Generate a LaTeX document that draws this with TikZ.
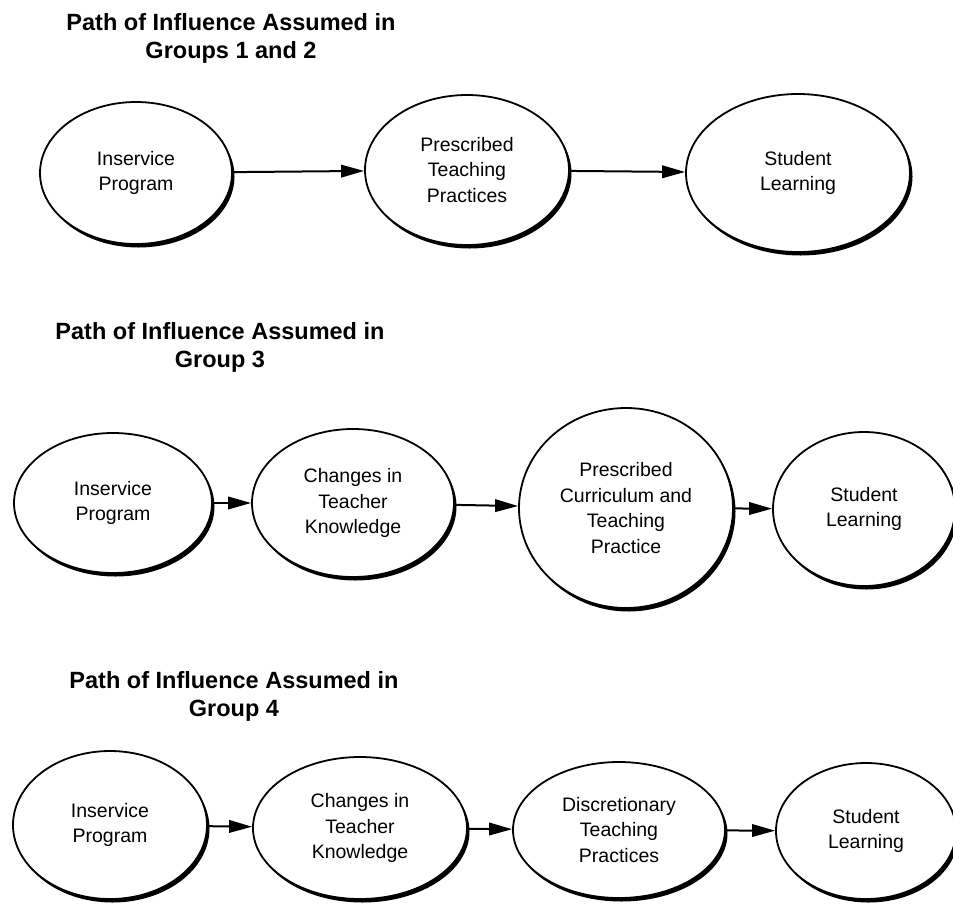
\documentclass[tikz,border=0pt]{standalone}
\usepackage{fontspec}
\setmainfont{Liberation Sans}
\usetikzlibrary{shapes.geometric,shadows,arrows.meta}
\tikzset{
  bubble/.style={ellipse, draw=black, line width=1.8pt, fill=white, inner sep=0pt,
    align=center, font=\fontsize{19.5}{25.5}\selectfont,
    drop shadow={shadow xshift=2.5pt, shadow yshift=-3.5pt, opacity=1, fill=black}},
  title/.style={align=center, font=\fontsize{23.5}{28}\selectfont\bfseries, inner sep=0pt},
  link/.style={line width=2pt, -{Triangle[length=23pt,width=12.5pt]}}
}
\begin{document}
\begin{tikzpicture}[x=1pt,y=-1pt]
\useasboundingbox (0,0) rectangle (953,903);
\begin{scope}
\clip (0,0) rectangle (953,903);
% Row 1
\node[title] (t1) at (231,38) {Path of Influence Assumed in\\Groups 1 and 2};
\node[bubble, minimum width=192pt, minimum height=142pt] (a1) at (136,173) {Inservice\\Program};
\node[bubble, minimum width=204pt, minimum height=150pt] (b1) at (467,170) {Prescribed\\Teaching\\Practices};
\node[bubble, minimum width=224pt, minimum height=158pt] (c1) at (798,173) {Student\\Learning};
\draw[link] (a1) -- (b1);
\draw[link] (b1) -- (c1);
% Row 2
\node[title] (t2) at (220,347) {Path of Influence Assumed in\\Group 3};
\node[bubble, minimum width=198pt, minimum height=140pt] (a2) at (113,503) {Inservice\\Program};
\node[bubble, minimum width=202pt, minimum height=148pt] (b2) at (353,503) {Changes in\\Teacher\\Knowledge};
\node[bubble, minimum width=214pt, minimum height=200pt] (c2) at (626,508) {Prescribed\\Curriculum and\\Teaching\\Practice};
\node[bubble, minimum width=182pt, minimum height=154pt] (d2) at (864,509) {Student\\Learning};
\draw[link] (a2) -- (b2);
\draw[link] (b2) -- (c2);
\draw[link] (c2) -- (d2);
% Row 3
\node[title] (t3) at (234,696) {Path of Influence Assumed in\\Group 4};
\node[bubble, minimum width=194pt, minimum height=148pt] (a3) at (110,825) {Inservice\\Program};
\node[bubble, minimum width=214pt, minimum height=142pt] (b3) at (360,828) {Changes in\\Teacher\\Knowledge};
\node[bubble, minimum width=212pt, minimum height=136pt] (c3) at (619,830) {Discretionary\\Teaching\\Practices};
\node[bubble, minimum width=180pt, minimum height=136pt] (d3) at (866,831) {Student\\Learning};
\draw[link] (a3) -- (b3);
\draw[link] (b3) -- (c3);
\draw[link] (c3) -- (d3);
\end{scope}
\end{tikzpicture}
\end{document}
